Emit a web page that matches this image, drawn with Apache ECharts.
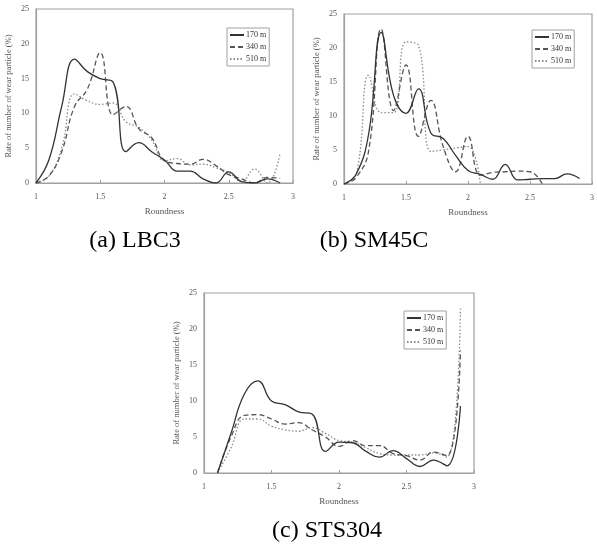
<!DOCTYPE html>
<html>
<head>
<meta charset="utf-8">
<script src="https://cdn.jsdelivr.net/npm/echarts@6/dist/echarts.min.js"></script>
<style>
  html, body { margin: 0; padding: 0; background: #fff; }
  #chart { width: 597px; height: 548px; }
</style>
</head>
<body>
<div id="chart"></div>
<script>
// roundness steps
const roundness = [1.0, 1.1, 1.2, 1.3, 1.4, 1.5, 1.6, 1.7, 1.8, 1.9, 2.0, 2.1, 2.2, 2.3, 2.4, 2.5, 2.6, 2.7, 2.8, 2.9];
const legendNames = ["170 m", "340 m", "510 m"];
const xTicks = [1, 1.5, 2, 2.5, 3];
const yTicks = [0, 5, 10, 15, 20, 25];

// (a) LBC3
const lbc3_170 = [0, 3.3, 11, 17.8, 16, 15, 14.5, 4.5, 5.8, 4.5, 3.3, 1.7, 1.7, 0.6, 0, 1.6, 0.2, 0, 0.6, 0];
const lbc3_340 = [0, 1, 4.5, 11, 13.5, 18.7, 9.8, 11, 7.8, 6.5, 3.2, 2.8, 2.7, 3.4, 2.5, 1.2, 0.6, 0, 0.8, 0.7];
const lbc3_510 = [0, 1, 5, 12.8, 11.8, 11.3, 11.5, 8.8, 8, 6.2, 3.2, 3.5, 2.6, 2.7, 2.2, 1.5, 0.2, 2, 0, 4.3];

// (b) SM45C
const sm45c_170 = [0, 1.5, 7.5, 22.3, 13, 10.4, 14, 7.5, 6.7, 4.2, 2, 1.4, 0.7, 2.9, 0.6, 0.7, 0.8, 0.8, 1.5, 0.8];
const sm45c_340 = [0, 1, 5, 22.8, 10.8, 17.5, 7, 12.3, 5.5, 1.8, 7, 1.3, 1.7, 1.8, 1.9, 1.8, 0];
const sm45c_510 = [0, 1.5, 16, 10.5, 10.5, 20.9, 20.4, 4.8, 5, 5.3, 5.5, 0];

// (c) STS304 (starts at 1.1)
const sts304_170 = [0, 5.5, 11, 12.8, 10, 9.5, 8.5, 8.2, 3, 4.3, 4.2, 3, 2.2, 3.1, 2, 0.9, 1.8, 1, 9.3];
const sts304_340 = [0, 5, 8, 8.1, 7.5, 6.8, 7, 6, 5, 3.7, 4.5, 3.8, 3.8, 2.7, 2.4, 1.8, 2.9, 2.4, 17];
const sts304_510 = [0, 3.5, 7.5, 7.5, 6.5, 6, 5.8, 6.3, 5.5, 4.5, 4.3, 3.5, 2.7, 2.5, 2.5, 2.5, 2.8, 2.2, 23];

const serif = "Liberation Serif";
const styles = [
  { color: "#333", type: "solid", width: 1.3 },
  { color: "#555", type: [5, 3], width: 1.3 },
  { color: "#8a8a8a", type: [1.5, 2], width: 1.3 }
];

function pairs(values, start) {
  let arr = [];
  values.forEach((v, i) => {
    arr.push([roundness[start + i], v]);
  });
  return arr;
}

function makeSeries(idx, sets, start) {
  let arr = [];
  sets.forEach((vals, k) => {
    arr.push({
      name: legendNames[k],
      type: "line",
      smooth: 0.45,
      symbol: "none",
      xAxisIndex: idx,
      yAxisIndex: idx,
      lineStyle: {
        color: styles[k].color,
        type: styles[k].type,
        width: styles[k].width
      },
      itemStyle: { color: styles[k].color },
      z: 3 - k,
      data: pairs(vals, start)
    });
  });
  return arr;
}

function makeX(idx) {
  return {
    type: "value",
    gridIndex: idx,
    min: xTicks[0],
    max: xTicks[xTicks.length - 1],
    interval: 0.5,
    name: "Roundness",
    nameLocation: "middle",
    nameGap: 24,
    nameTextStyle: { fontFamily: serif, fontSize: 9, color: "#555" },
    axisLine: { show: true, lineStyle: { color: "#a0a0a0", width: 1.2 } },
    axisTick: { show: true, inside: true, length: 3, lineStyle: { color: "#a0a0a0" } },
    axisLabel: { fontFamily: serif, fontSize: 8, color: "#555", margin: 10 },
    splitLine: { show: false }
  };
}

function makeY(idx) {
  return {
    type: "value",
    gridIndex: idx,
    min: yTicks[0],
    max: yTicks[yTicks.length - 1],
    interval: 5,
    name: "Rate of number of wear particle (%)",
    nameLocation: "middle",
    nameRotate: 90,
    nameGap: 23,
    nameTextStyle: { fontFamily: serif, fontSize: 8.5, color: "#555" },
    axisLine: { show: true, lineStyle: { color: "#a0a0a0", width: 1.2 } },
    axisTick: { show: false },
    axisLabel: { fontFamily: serif, fontSize: 8, color: "#555", margin: 7 },
    splitLine: { show: false }
  };
}

function makeLegend(left, top) {
  return {
    left: left,
    top: top,
    orient: "vertical",
    itemWidth: 14,
    itemHeight: 8,
    itemGap: 4,
    padding: [3, 3, 3, 2],
    borderColor: "#a0a0a0",
    borderWidth: 1,
    backgroundColor: "#fff",
    // hide the circle marker, keep the line sample
    itemStyle: { color: "transparent", borderColor: "transparent", borderWidth: 0 },
    textStyle: { fontFamily: serif, fontSize: 8, color: "#333", padding: [0, 0, 0, -3] },
    data: legendNames
  };
}

function caption(text, x, y) {
  return {
    type: "text",
    x: x,
    y: y,
    style: {
      text: text,
      fontFamily: serif,
      fontSize: 24,
      fill: "#000",
      textAlign: "center",
      textVerticalAlign: "middle"
    }
  };
}

function setChart() {
  let grid = [
    { left: 36, top: 9, width: 257, height: 174 },
    { left: 344, top: 14, width: 252, height: 170 },
    { left: 204, top: 293, width: 270, height: 180 }
  ];
  grid.forEach((g) => {
    g.show = true;
    g.borderColor = "#a0a0a0";
    g.borderWidth = 1.2;
    g.backgroundColor = "transparent";
  });
  let option = {
    animation: false,
    grid: grid,
    xAxis: [makeX(0), makeX(1), makeX(2)],
    yAxis: [makeY(0), makeY(1), makeY(2)],
    legend: [makeLegend(227, 28), makeLegend(532, 30), makeLegend(404, 311)],
    graphic: [
      caption("(a) LBC3", 135, 241),
      caption("(b) SM45C", 374, 241),
      caption("(c) STS304", 327, 531)
    ],
    series: []
      .concat(makeSeries(0, [lbc3_170, lbc3_340, lbc3_510], 0))
      .concat(makeSeries(1, [sm45c_170, sm45c_340, sm45c_510], 0))
      .concat(makeSeries(2, [sts304_170, sts304_340, sts304_510], 1))
  };
  let myChart = echarts.init(document.getElementById("chart"));
  myChart.setOption(option);
}

setChart();
</script>
</body>
</html>
